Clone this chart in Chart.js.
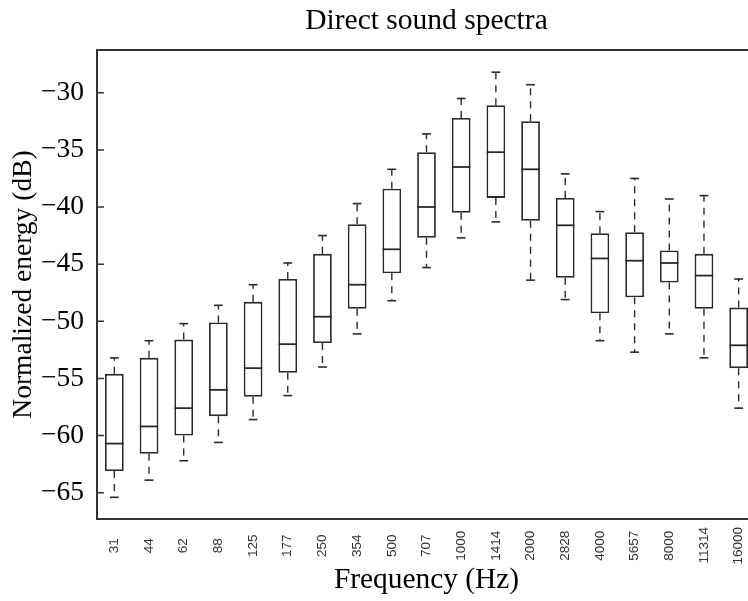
<!DOCTYPE html>
<html>
<head>
<meta charset="utf-8">
<script src="https://cdn.jsdelivr.net/npm/chart.js@4/dist/chart.umd.min.js"></script>
<style>
  html, body { margin: 0; padding: 0; overflow: hidden; background: #fff; }
  canvas { display: block; }
</style>
</head>
<body>
<canvas id="myChart" width="756" height="601"></canvas>
<script>
// octave band centres (Hz)
var freqLabels = ['31', '44', '62', '88', '125', '177', '250', '354', '500', '707',
  '1000', '1414', '2000', '2828', '4000', '5657', '8000', '11314', '16000'];

// box plot values (dB)
var whiskerHigh = [-53.2, -51.7, -50.2, -48.6, -46.8, -44.9, -42.5, -39.7, -36.7, -33.6,
  -30.5, -28.2, -29.3, -37.1, -40.4, -37.5, -39.3, -39.0, -46.3];
var upperQuartile = [-54.6, -53.2, -51.6, -50.1, -48.3, -46.3, -44.1, -41.5, -38.4, -35.2,
  -32.2, -31.1, -32.5, -39.2, -42.3, -42.2, -43.8, -44.1, -48.8];
var medians = [-60.7, -59.2, -57.6, -56.0, -54.1, -52.0, -49.6, -46.8, -43.7, -40.0,
  -36.5, -35.2, -36.7, -41.6, -44.5, -44.7, -44.9, -46.0, -52.1];
var lowerQuartile = [-63.1, -61.6, -60.0, -58.3, -56.6, -54.5, -51.9, -48.9, -45.8, -42.7,
  -40.5, -39.2, -41.2, -46.2, -49.3, -47.9, -46.6, -48.9, -54.1];
var whiskerLow = [-65.4, -63.9, -62.2, -60.6, -58.6, -56.5, -54.0, -51.1, -48.2, -45.3,
  -42.7, -41.3, -46.4, -48.1, -51.7, -52.7, -51.1, -53.2, -57.6];

var yTicks = [-65, -60, -55, -50, -45, -40, -35, -30];

var lineColor = '#2a2a2a';

function makeWhiskers(from, to) {
  var pts = [];
  for (var i = 0; i < freqLabels.length; i++) {
    pts.push({ x: freqLabels[i], y: from[i] });
    pts.push({ x: freqLabels[i], y: to[i] });
    pts.push({ x: freqLabels[i], y: null });
  }
  return pts;
}

var boxes = freqLabels.map(function (f, i) {
  return [lowerQuartile[i], upperQuartile[i]];
});

var serif = "'Liberation Serif', 'Times New Roman', serif";

// matlab style ticks pointing into the plot
var innerTicks = {
  id: 'innerTicks',
  afterDraw: function (chart) {
    var y = chart.scales.y;
    var area = chart.chartArea;
    var c = chart.ctx;
    c.save();
    c.strokeStyle = '#333';
    c.lineWidth = 1.5;
    yTicks.forEach(function (v) {
      var py = y.getPixelForValue(v);
      c.beginPath();
      c.moveTo(area.left, py);
      c.lineTo(area.left + 7, py);
      c.moveTo(area.right, py);
      c.lineTo(area.right - 7, py);
      c.stroke();
    });
    c.restore();
  }
};

// the plot runs off the right edge, so no room is kept for the last label
function noSidePadding(scale) {
  scale.paddingLeft = 0;
  scale.paddingRight = 0;
}

var ctx = document.getElementById('myChart').getContext('2d');

var chart = new Chart(ctx, {
  type: 'bar',
  data: {
    labels: freqLabels,
    datasets: [
      {
        type: 'line',
        label: 'median',
        data: medians,
        showLine: false,
        pointStyle: 'line',
        pointRadius: 9.2,
        pointBorderWidth: 1.8,
        pointBorderColor: lineColor,
        order: 1
      },
      {
        type: 'line',
        label: 'upper whisker',
        data: makeWhiskers(upperQuartile, whiskerHigh),
        borderColor: lineColor,
        borderWidth: 1.4,
        borderDash: [7, 6],
        pointRadius: 0,
        spanGaps: false,
        order: 1
      },
      {
        type: 'line',
        label: 'lower whisker',
        data: makeWhiskers(lowerQuartile, whiskerLow),
        borderColor: lineColor,
        borderWidth: 1.4,
        borderDash: [7, 6],
        pointRadius: 0,
        spanGaps: false,
        order: 1
      },
      {
        type: 'line',
        label: 'max',
        data: whiskerHigh,
        showLine: false,
        pointStyle: 'line',
        pointRadius: 4.4,
        pointBorderWidth: 1.6,
        pointBorderColor: lineColor,
        order: 1
      },
      {
        type: 'line',
        label: 'min',
        data: whiskerLow,
        showLine: false,
        pointStyle: 'line',
        pointRadius: 4.4,
        pointBorderWidth: 1.6,
        pointBorderColor: lineColor,
        order: 1
      },
      {
        label: 'box',
        data: boxes,
        backgroundColor: '#fff',
        borderColor: lineColor,
        borderWidth: 1.8,
        borderSkipped: false,
        barPercentage: 0.54,
        categoryPercentage: 1,
        order: 2
      }
    ]
  },
  options: {
    responsive: false,
    animation: false,
    layout: { padding: 0, autoPadding: false },
    plugins: {
      legend: { display: false },
      tooltip: { enabled: false }
    },
    scales: {
      x: {
        type: 'category',
        position: 'bottom',
        offset: true,
        grid: { drawOnChartArea: false, drawTicks: false },
        border: { color: '#333', width: 2 },
        ticks: {
          minRotation: 90,
          maxRotation: 90,
          autoSkip: false,
          padding: 8,
          color: '#333',
          font: { family: "'Liberation Sans', Arial, sans-serif", size: 13.5 },
          // trailing spaces keep the rotated labels centred on one line
          callback: function (value) {
            var s = this.getLabelForValue(value);
            return s + ' '.repeat(5 - s.length);
          }
        },
        title: {
          display: true,
          text: 'Frequency (Hz)',
          color: '#000',
          padding: { top: 0, bottom: 3 },
          font: { family: serif, size: 29.4 }
        },
        afterFit: function (scale) {
          scale.height = 82;
          noSidePadding(scale);
        }
      },
      xTop: {
        type: 'category',
        position: 'top',
        offset: true,
        grid: { drawOnChartArea: false, drawTicks: false },
        border: { color: '#333', width: 2 },
        ticks: { display: false },
        title: {
          display: true,
          text: 'Direct sound spectra',
          color: '#000',
          padding: { top: 4, bottom: 0 },
          font: { family: serif, size: 29.5 }
        },
        afterFit: function (scale) {
          scale.height = 50;
          noSidePadding(scale);
        }
      },
      y: {
        min: -67.3,
        max: -26.26,
        grid: { display: false },
        border: { color: '#333', width: 2 },
        afterBuildTicks: function (scale) {
          scale.ticks = yTicks.map(function (v) { return { value: v }; });
        },
        ticks: {
          padding: 5,
          color: '#000',
          font: { family: serif, size: 27.5 },
          callback: function (value) {
            return String(value).replace('-', '\u2212');
          }
        },
        title: {
          display: true,
          text: 'Normalized energy (dB)',
          color: '#000',
          padding: { top: 7, bottom: 0 },
          font: { family: serif, size: 27.5 }
        },
        afterFit: function (scale) { scale.width = 97; }
      }
    }
  },
  plugins: [innerTicks]
});
</script>
</body>
</html>
